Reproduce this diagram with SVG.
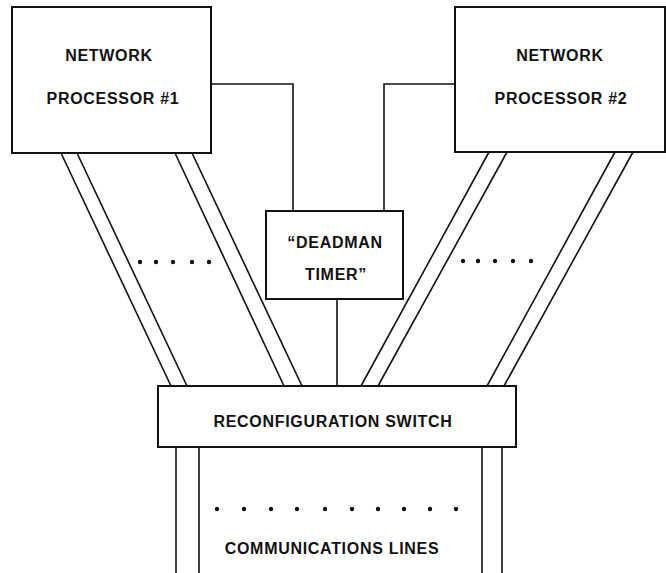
<svg xmlns="http://www.w3.org/2000/svg" width="666" height="573" viewBox="0 0 666 573">
<style>
.box{fill:#fff;stroke:#111;stroke-width:2}
.ln{fill:none;stroke:#111;stroke-width:1.6}
.t{font-family:"Liberation Sans",Arial,sans-serif;font-weight:bold;font-size:16px;letter-spacing:0.7px;fill:#111;text-anchor:middle}
.dot{fill:#111}
</style>
<rect width="666" height="573" fill="#fff"/>
<g id="connectors">
<polyline class="ln" points="211,84 293,84 293,211"/>
<polyline class="ln" points="455,84 384,84 384,211"/>
<line class="ln" x1="337" y1="299" x2="337" y2="386"/>
<line class="ln" x1="61" y1="153" x2="171" y2="386"/>
<line class="ln" x1="77" y1="153" x2="187" y2="386"/>
<line class="ln" x1="175" y1="153" x2="284" y2="386"/>
<line class="ln" x1="192" y1="153" x2="302" y2="386"/>
<line class="ln" x1="489" y1="152" x2="361" y2="386"/>
<line class="ln" x1="507" y1="152" x2="378" y2="386"/>
<line class="ln" x1="615" y1="152" x2="487" y2="386"/>
<line class="ln" x1="633" y1="152" x2="504" y2="386"/>
<line class="ln" x1="176" y1="447" x2="176" y2="573"/>
<line class="ln" x1="199" y1="447" x2="199" y2="573"/>
<line class="ln" x1="482" y1="447" x2="482" y2="573"/>
<line class="ln" x1="502" y1="447" x2="502" y2="573"/>
<g class="dot">
<circle cx="140" cy="262" r="2.2"/><circle cx="156" cy="262" r="2.2"/><circle cx="173" cy="262" r="2.2"/><circle cx="192" cy="262" r="2.2"/><circle cx="209" cy="262" r="2.2"/>
<circle cx="463" cy="261" r="2.2"/><circle cx="478" cy="261" r="2.2"/><circle cx="495" cy="261" r="2.2"/><circle cx="513" cy="261" r="2.2"/><circle cx="531" cy="261" r="2.2"/>
<circle cx="217" cy="509" r="2.2"/><circle cx="244" cy="509" r="2.2"/><circle cx="271" cy="509" r="2.2"/><circle cx="297" cy="509" r="2.2"/><circle cx="325" cy="509" r="2.2"/><circle cx="352" cy="509" r="2.2"/><circle cx="378" cy="509" r="2.2"/><circle cx="404" cy="509" r="2.2"/><circle cx="430" cy="509" r="2.2"/><circle cx="456" cy="509" r="2.2"/>
</g>
</g>
<g id="np1">
<rect class="box" x="12" y="7" width="199" height="146"/>
<text class="t" x="109" y="61">NETWORK</text>
<text class="t" x="113" y="104">PROCESSOR #1</text>
</g>
<g id="np2">
<rect class="box" x="455" y="7" width="210" height="145"/>
<text class="t" x="560" y="61">NETWORK</text>
<text class="t" x="561" y="104">PROCESSOR #2</text>
</g>
<g id="deadman">
<rect class="box" x="266" y="211" width="137" height="88"/>
<text class="t" x="335" y="248">“DEADMAN</text>
<text class="t" x="336" y="280">TIMER”</text>
</g>
<g id="switch">
<rect class="box" x="158" y="386" width="358" height="61"/>
<text class="t" x="333" y="427">RECONFIGURATION SWITCH</text>
</g>
<g id="comm-label">
<text class="t" x="332" y="554">COMMUNICATIONS LINES</text>
</g>
</svg>
